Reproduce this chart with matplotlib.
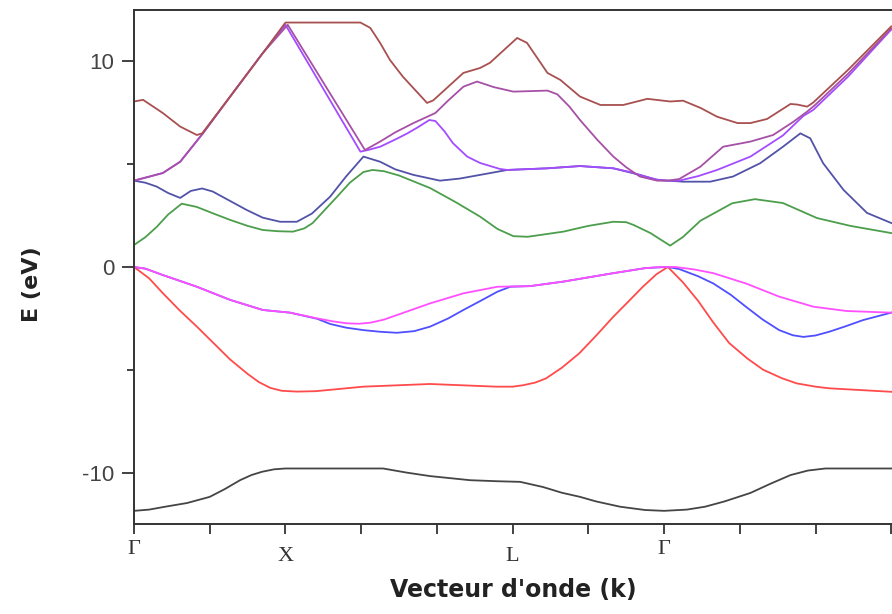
import matplotlib
matplotlib.use("Agg")
import matplotlib.pyplot as plt
from matplotlib.ticker import FixedLocator

# ---- data (k in path units: Γ=0, X=2, L=5, Γ=7), energies in eV ----
k_black = [0, 0.2, 0.41, 0.7, 1.0, 1.2, 1.4, 1.55, 1.69, 1.85, 2.0, 3.29, 3.6, 3.91, 4.44, 4.8, 5.1, 5.4, 5.65, 5.89, 6.1, 6.42, 6.75, 7.0, 7.3, 7.54, 7.8, 8.14, 8.4, 8.67, 8.9, 9.13, 10.0]
E_black = [-11.86, -11.8, -11.66, -11.48, -11.18, -10.8, -10.37, -10.12, -9.96, -9.84, -9.8, -9.8, -10.0, -10.17, -10.37, -10.42, -10.45, -10.7, -10.98, -11.18, -11.4, -11.66, -11.82, -11.86, -11.8, -11.66, -11.4, -10.99, -10.55, -10.12, -9.9, -9.8, -9.8]

k_red = [0, 0.2, 0.38, 0.6, 0.83, 1.05, 1.27, 1.5, 1.65, 1.8, 1.95, 2.15, 2.4, 3.03, 3.91, 4.78, 5.0, 5.14, 5.3, 5.44, 5.65, 5.88, 6.1, 6.33, 6.55, 6.72, 6.9, 7.05, 7.25, 7.45, 7.65, 7.86, 8.1, 8.31, 8.55, 8.75, 9.0, 9.18, 10.0]
E_red = [0, -0.55, -1.27, -2.1, -2.9, -3.7, -4.5, -5.2, -5.6, -5.88, -6.02, -6.06, -6.04, -5.82, -5.69, -5.82, -5.82, -5.75, -5.62, -5.42, -4.9, -4.2, -3.35, -2.42, -1.6, -0.96, -0.35, 0, -0.75, -1.65, -2.7, -3.7, -4.45, -5.0, -5.4, -5.66, -5.82, -5.9, -6.07]

k_blue = [0, 0.15, 0.38, 0.83, 1.27, 1.7, 2.06, 2.42, 2.59, 2.8, 3.03, 3.25, 3.47, 3.7, 3.91, 4.15, 4.35, 4.6, 4.8, 4.97, 5.23, 5.67, 6.33, 6.76, 7.05, 7.2, 7.45, 7.65, 7.88, 8.08, 8.3, 8.52, 8.7, 8.84, 9.0, 9.18, 9.4, 9.63, 10.0]
E_blue = [0, -0.08, -0.39, -0.96, -1.6, -2.09, -2.22, -2.52, -2.77, -2.95, -3.07, -3.15, -3.2, -3.12, -2.9, -2.5, -2.09, -1.6, -1.2, -0.96, -0.93, -0.71, -0.3, -0.05, 0, -0.1, -0.45, -0.8, -1.35, -1.93, -2.55, -3.07, -3.32, -3.4, -3.33, -3.15, -2.88, -2.58, -2.22]

k_mag = [0, 0.15, 0.38, 0.83, 1.27, 1.7, 2.06, 2.42, 2.62, 2.81, 2.97, 3.12, 3.3, 3.47, 3.91, 4.35, 4.8, 5.23, 5.67, 6.33, 6.76, 6.95, 7.15, 7.4, 7.65, 8.08, 8.52, 8.97, 9.41, 10.0]
E_mag = [0, -0.08, -0.39, -0.96, -1.6, -2.09, -2.22, -2.5, -2.64, -2.74, -2.76, -2.71, -2.56, -2.34, -1.77, -1.28, -0.96, -0.93, -0.71, -0.3, -0.05, 0, 0, -0.12, -0.3, -0.8, -1.44, -1.93, -2.14, -2.22]

k_green = [0, 0.15, 0.3, 0.45, 0.63, 0.83, 1.05, 1.27, 1.5, 1.7, 1.9, 2.1, 2.25, 2.36, 2.5, 2.68, 2.85, 3.03, 3.15, 3.3, 3.5, 3.91, 4.25, 4.57, 4.8, 5.01, 5.2, 5.67, 6.0, 6.33, 6.5, 6.6, 6.82, 7.08, 7.25, 7.48, 7.9, 8.2, 8.57, 9.02, 9.46, 10.0]
E_green = [1.07, 1.45, 1.95, 2.55, 3.08, 2.92, 2.6, 2.29, 2.0, 1.8, 1.74, 1.72, 1.88, 2.14, 2.7, 3.41, 4.1, 4.62, 4.72, 4.66, 4.45, 3.84, 3.15, 2.45, 1.85, 1.5, 1.47, 1.72, 2.0, 2.2, 2.18, 2.04, 1.65, 1.04, 1.46, 2.25, 3.1, 3.3, 3.11, 2.38, 2.0, 1.65]

k_slate = [0, 0.15, 0.3, 0.45, 0.61, 0.75, 0.9, 1.04, 1.25, 1.49, 1.7, 1.93, 2.15, 2.35, 2.59, 2.8, 3.03, 3.25, 3.45, 3.69, 4.04, 4.3, 4.57, 4.93, 5.46, 5.89, 6.33, 6.68, 6.91, 7.05, 7.25, 7.61, 7.91, 8.27, 8.57, 8.8, 8.93, 9.1, 9.37, 9.68, 10.0]
E_slate = [4.2, 4.1, 3.91, 3.6, 3.36, 3.7, 3.82, 3.67, 3.25, 2.77, 2.4, 2.2, 2.2, 2.6, 3.42, 4.4, 5.37, 5.12, 4.75, 4.48, 4.2, 4.3, 4.48, 4.72, 4.8, 4.91, 4.8, 4.48, 4.23, 4.2, 4.15, 4.15, 4.4, 5.05, 5.85, 6.5, 6.26, 5.05, 3.75, 2.63, 2.14]

k_violet = [0, 0.38, 0.61, 0.91, 1.27, 1.7, 2.0, 2.99, 3.1, 3.25, 3.45, 3.61, 3.75, 3.9, 3.98, 4.1, 4.21, 4.4, 4.57, 4.83, 4.93, 5.2, 5.46, 5.89, 6.33, 6.55, 6.75, 6.91, 7.05, 7.2, 7.45, 7.7, 8.14, 8.57, 8.84, 8.97, 9.43, 10.0]
E_violet = [4.2, 4.57, 5.12, 6.5, 8.29, 10.4, 11.78, 5.61, 5.7, 5.85, 6.2, 6.5, 6.8, 7.15, 7.1, 6.6, 6.03, 5.37, 5.06, 4.77, 4.72, 4.76, 4.8, 4.91, 4.8, 4.62, 4.4, 4.25, 4.2, 4.2, 4.42, 4.72, 5.37, 6.4, 7.35, 7.64, 9.26, 11.55]

k_purple = [0, 0.38, 0.61, 0.91, 1.27, 1.7, 2.03, 3.05, 3.25, 3.45, 3.69, 3.98, 4.15, 4.35, 4.53, 4.75, 5.01, 5.46, 5.59, 5.75, 5.89, 6.12, 6.33, 6.5, 6.68, 6.91, 7.05, 7.2, 7.48, 7.78, 8.14, 8.44, 8.71, 8.89, 9.0, 9.43, 10.0]
E_purple = [4.2, 4.57, 5.12, 6.5, 8.29, 10.4, 11.78, 5.69, 6.1, 6.55, 7.0, 7.49, 8.1, 8.77, 9.02, 8.75, 8.53, 8.58, 8.4, 7.8, 7.15, 6.18, 5.37, 4.85, 4.4, 4.2, 4.2, 4.28, 4.88, 5.85, 6.1, 6.42, 7.07, 7.56, 7.9, 9.4, 11.6]

k_brown = [0, 0.12, 0.38, 0.61, 0.83, 0.9, 1.27, 1.7, 2.0, 2.99, 3.12, 3.25, 3.38, 3.55, 3.87, 3.95, 4.35, 4.57, 4.7, 5.06, 5.19, 5.46, 5.63, 5.89, 6.16, 6.46, 6.78, 7.08, 7.25, 7.48, 7.7, 7.97, 8.14, 8.36, 8.67, 8.76, 8.89, 8.97, 9.43, 10.0]
E_brown = [8.05, 8.13, 7.49, 6.83, 6.42, 6.5, 8.29, 10.4, 11.89, 11.89, 11.63, 10.9, 10.07, 9.26, 7.98, 8.1, 9.44, 9.68, 9.93, 11.14, 10.9, 9.44, 9.1, 8.29, 7.88, 7.88, 8.18, 8.05, 8.09, 7.74, 7.31, 7.0, 7.0, 7.2, 7.93, 7.9, 7.8, 8.0, 9.59, 11.7]

tick_pos = [0, 1, 2, 3, 4, 5, 6, 7, 8, 9, 10]
label_pos = [0, 2, 5, 7]
label_txt = ["Γ", "X", "L", "Γ"]
ytick_major = [-10, 0, 10]
ytick_minor = [-5, 5]

bands = [
    (k_black, E_black, "#454545"),
    (k_red, E_red, "#ff4b4b"),
    (k_blue, E_blue, "#4f4fff"),
    (k_mag, E_mag, "#ff4fff"),
    (k_green, E_green, "#4c9e4c"),
    (k_slate, E_slate, "#5252a8"),
    (k_violet, E_violet, "#a44cff"),
    (k_purple, E_purple, "#a650a6"),
    (k_brown, E_brown, "#a85050"),
]

fig = plt.figure(figsize=(8.92, 6.14), dpi=100)
ax = fig.add_axes([134 / 892, 1 - 524 / 614, 1 - 134 / 892, (524 - 10) / 614])

for k, E, c in bands:
    ax.plot(k, E, color=c, lw=1.3, solid_joinstyle="round")

ax.set_xlim(0, 10.01)
ax.set_ylim(-12.5, 12.5)

ax.xaxis.set_major_locator(FixedLocator(tick_pos))
ax.set_xticklabels([""] * len(tick_pos))
for p, t in zip(label_pos, label_txt):
    yoff = -0.031 if t == "Γ" else -0.045
    ax.text(p, yoff, t, transform=ax.get_xaxis_transform(), ha="center", va="top",
            fontsize=16, family="Liberation Serif", color="#333333")

ax.yaxis.set_major_locator(FixedLocator(ytick_major))
ax.yaxis.set_minor_locator(FixedLocator(ytick_minor))
ax.set_yticklabels([str(v) for v in ytick_major])

for sp in ["left", "bottom", "top"]:
    ax.spines[sp].set_color("#333333")
    ax.spines[sp].set_linewidth(1.4)
ax.spines["right"].set_visible(False)

ax.tick_params(axis="x", which="major", direction="out", length=7, width=1.3, color="#333333")
ax.tick_params(axis="y", which="major", direction="out", length=9, width=1.3, color="#333333",
               labelsize=16, labelcolor="#444444", pad=5)
ax.tick_params(axis="y", which="minor", direction="out", length=5, width=1.3, color="#333333")
for lab in ax.get_yticklabels():
    lab.set_family("Liberation Sans")

ax.set_xlabel("Vecteur d'onde (k)", fontsize=17, fontweight="bold", family="DejaVu Sans",
              color="#222222")
ax.xaxis.set_label_coords(0.5, -0.105)
ax.set_ylabel("E (eV)", fontsize=16, fontweight="bold", family="DejaVu Sans",
              color="#222222")
ax.yaxis.set_label_coords(-0.1215, 0.467)

fig.savefig("out.png", dpi=100)
